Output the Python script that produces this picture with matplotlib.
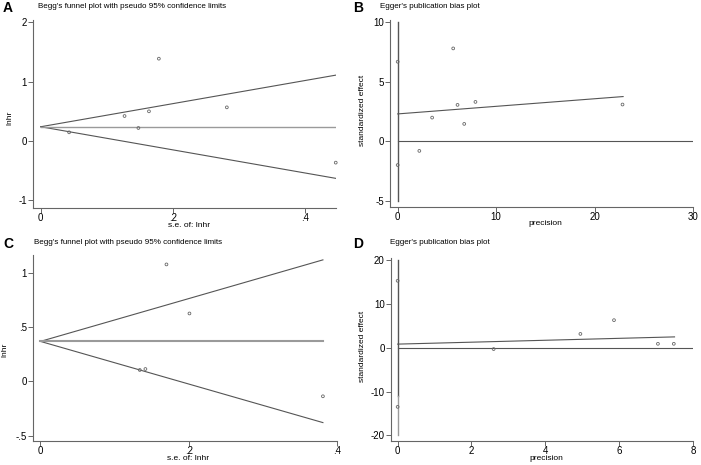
import matplotlib
matplotlib.use("Agg")
import matplotlib.pyplot as plt
from matplotlib.ticker import FuncFormatter

plt.rcParams["font.family"] = ["Liberation Sans", "DejaVu Sans"]

# --- data ---
# panel A: Begg's funnel
a_se = [0.043, 0.127, 0.148, 0.164, 0.179, 0.282, 0.447]
a_lnhr = [0.146, 0.421, 0.219, 0.50, 1.388, 0.567, -0.365]
a_pooled = 0.24
a_se_max = 0.447
a_upper = 1.11
a_lower = -0.63

# panel B: Egger
b_prec = [0.0, 0.0, 2.2, 3.5, 5.64, 6.08, 6.76, 7.9, 22.84]
b_eff = [6.69, -2.0, -0.81, 1.99, 7.81, 3.06, 1.46, 3.31, 3.09]
b_ci = [-5, 10]
b_reg_x = [0.0, 22.9]
b_reg_y = [2.30, 3.76]
b_zero_x = [0, 30]

# panel C: Begg's funnel
c_se = [0.134, 0.1416, 0.170, 0.201, 0.381]
c_lnhr = [0.106, 0.115, 1.081, 0.628, -0.137]
c_pooled = 0.37
c_se_max = 0.381
c_upper = 1.123
c_lower = -0.38

# panel D: Egger
d_prec = [0.0, 0.0, 2.6, 4.95, 5.86, 7.05, 7.48]
d_eff = [15.3, -13.5, -0.3, 3.16, 6.3, 0.9, 0.9]
d_ci_dark = [-11, 20]
d_ci_light = [-20, -11]
d_reg_x = [0.0, 7.5]
d_reg_y = [0.83, 2.48]
d_zero_x = [0, 8]

W, H = 701, 465
fig = plt.figure(figsize=(W / 100, H / 100), dpi=100)

LINE = "#555555"
LIGHT = "#9a9a9a"


def stata_fmt(v, pos):
    # stata style: .2 instead of 0.2
    s = ("%g" % round(v, 6))
    if s.startswith("0.") and s != "0":
        s = s[1:]
    elif s.startswith("-0."):
        s = "-" + s[2:]
    return s


def make_ax(left, top, right, bottom):
    ax = fig.add_axes([left / W, 1 - bottom / H, (right - left) / W, (bottom - top) / H])
    ax.spines["top"].set_visible(False)
    ax.spines["right"].set_visible(False)
    for s in ("left", "bottom"):
        ax.spines[s].set_color("#666666")
        ax.spines[s].set_linewidth(0.8)
    ax.tick_params(direction="out", length=3.5, width=0.7, color="#666666",
                   labelsize=7, pad=1)
    ax.tick_params(axis="x", pad=0)
    ax.xaxis.set_major_formatter(FuncFormatter(stata_fmt))
    ax.yaxis.set_major_formatter(FuncFormatter(stata_fmt))
    return ax


def pts(ax, x, y):
    ax.scatter(x, y, s=4, facecolors="none", edgecolors="#666666", linewidths=0.6,
               zorder=3, clip_on=False)


def labels(ax, xl, yl, xpos, ypos):
    ax.set_xlabel(xl, fontsize=6)
    ax.set_ylabel(yl, fontsize=6)
    ax.xaxis.set_label_coords(*xpos)
    ax.yaxis.set_label_coords(*ypos)


# A
ax = make_ax(33, 20, 336, 208)
ax.set_xlim(-0.0117, 0.4474)
ax.set_ylim(-1.13, 2.04)
ax.plot([0, a_se_max], [a_pooled, a_upper], color=LINE, lw=0.8)
ax.plot([0, a_se_max], [a_pooled, a_lower], color=LINE, lw=0.8)
ax.plot([0, a_se_max], [a_pooled, a_pooled], color=LIGHT, lw=1.0)
pts(ax, a_se, a_lnhr)
ax.set_xticks([0, 0.2, 0.4])
ax.set_yticks([-1, 0, 1, 2])
labels(ax, "s.e. of: lnhr", "lnhr", (0.514, -0.074), (-0.064, 0.48))

# B
ax = make_ax(390, 20, 693, 207)
ax.set_xlim(-0.78, 30)
ax.set_ylim(-5.53, 10.2)
ax.plot([0, 0], b_ci, color=LINE, lw=1.0)
ax.plot(b_zero_x, [0, 0], color=LINE, lw=0.8)
ax.plot(b_reg_x, b_reg_y, color=LINE, lw=0.8)
pts(ax, b_prec, b_eff)
ax.set_xticks([0, 10, 20, 30])
ax.set_yticks([-5, 0, 5, 10])
labels(ax, "precision", "standardized effect", (0.514, -0.072), (-0.079, 0.516))

# C
ax = make_ax(33, 255, 337, 441)
ax.set_xlim(-0.01, 0.4)
ax.set_ylim(-0.55, 1.168)
ax.plot([0, c_se_max], [c_pooled, c_upper], color=LINE, lw=0.8)
ax.plot([0, c_se_max], [c_pooled, c_lower], color=LINE, lw=0.8)
ax.plot([0, c_se_max], [c_pooled, c_pooled], color=LIGHT, lw=1.5)
pts(ax, c_se, c_lnhr)
ax.set_xticks([0, 0.2, 0.4])
ax.set_yticks([-0.5, 0, 0.5, 1])
labels(ax, "s.e. of: lnhr", "lnhr", (0.51, -0.075), (-0.081, 0.49))

# D
ax = make_ax(391, 258, 693, 441)
ax.set_xlim(-0.18, 8)
ax.set_ylim(-21.3, 20.5)
ax.plot([0, 0], d_ci_dark, color=LINE, lw=1.0)
ax.plot([0, 0], d_ci_light, color=LIGHT, lw=1.0)
ax.plot(d_zero_x, [0, 0], color=LINE, lw=0.8)
ax.plot(d_reg_x, d_reg_y, color=LINE, lw=0.8)
pts(ax, d_prec, d_eff)
ax.set_xticks([0, 2, 4, 6, 8])
ax.set_yticks([-20, -10, 0, 10, 20])
labels(ax, "precision", "standardized effect", (0.516, -0.076), (-0.083, 0.516))

# titles and panel letters
for lx, tx, y, letter, title in [
    (3, 38, 8, "A", "Begg's funnel plot with pseudo 95% confidence limits"),
    (353, 380, 8, "B", "Egger's publication bias plot"),
    (3, 34, 244, "C", "Begg's funnel plot with pseudo 95% confidence limits"),
    (353, 390, 244, "D", "Egger's publication bias plot"),
]:
    fig.text(lx / W, 1 - y / H, letter, fontsize=10, fontweight="bold", va="center", ha="left")
    fig.text(tx / W, 1 - (y - 2) / H, title, fontsize=5.8, va="center", ha="left")

fig.savefig("out.png", dpi=100)
